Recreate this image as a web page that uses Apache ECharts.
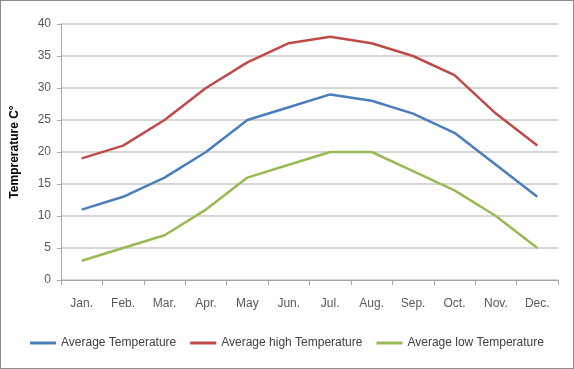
<!DOCTYPE html>
<html>
<head>
<meta charset="utf-8">
<script src="https://cdn.jsdelivr.net/npm/echarts@6/dist/echarts.min.js"></script>
<style>
	html, body { margin: 0; padding: 0; background: #fff; }
	#chart { width: 572px; height: 367px; border: 1px solid #8c8c8c; }
</style>
</head>
<body>
<div id="chart"></div>
<script>
const months = ['Jan.', 'Feb.', 'Mar.', 'Apr.', 'May', 'Jun.', 'Jul.', 'Aug.', 'Sep.', 'Oct.', 'Nov.', 'Dec.']
const avgTemp = [11, 13, 16, 20, 25, 27, 29, 28, 26, 23, 18, 13]
const highTemp = [19, 21, 25, 30, 34, 37, 38, 37, 35, 32, 26, 21]
const lowTemp = [3, 5, 7, 11, 16, 18, 20, 20, 17, 14, 10, 5]

const font = 'Liberation Sans'
const chart = echarts.init(document.getElementById('chart'))

function line(name, data, color) {
	return {
		name: name,
		type: 'line',
		data: data,
		symbol: 'none',
		lineStyle: { width: 2.5, color: color },
		itemStyle: { color: color }
	}
}

chart.setOption({
	animation: false,
	grid: { left: 59, right: 15, top: 23, bottom: 88 },
	legend: {
		bottom: 14,
		left: 'center',
		icon: 'rect',
		itemWidth: 26,
		itemHeight: 3,
		itemGap: 14,
		textStyle: { fontFamily: font, fontSize: 12, color: '#404040' },
		data: ['Average Temperature', 'Average high Temperature', 'Average low Temperature']
	},
	xAxis: {
		type: 'category',
		data: months,
		boundaryGap: true,
		axisLine: { lineStyle: { color: '#a6a6a6', width: 1 } },
		axisTick: { show: true, length: 5, lineStyle: { color: '#a6a6a6' } },
		axisLabel: { margin: 18, fontFamily: font, fontSize: 12, color: '#595959' }
	},
	yAxis: {
		type: 'value',
		min: 0,
		max: 40,
		interval: 5,
		name: 'Temprerature C°',
		nameLocation: 'middle',
		nameGap: 40,
		nameTextStyle: { fontFamily: font, fontSize: 12, fontWeight: 'bold', color: '#000' },
		axisLine: { show: true, lineStyle: { color: '#a6a6a6' } },
		axisTick: { show: true, length: 4, lineStyle: { color: '#a6a6a6' } },
		axisLabel: { margin: 10, fontFamily: font, fontSize: 12, color: '#595959' },
		splitLine: { lineStyle: { color: '#c8c8c8', width: 1.5 } }
	},
	series: [
		line('Average Temperature', avgTemp, '#4a7ebb'),
		line('Average high Temperature', highTemp, '#be4b48'),
		line('Average low Temperature', lowTemp, '#98b954')
	]
})
</script>
</body>
</html>
